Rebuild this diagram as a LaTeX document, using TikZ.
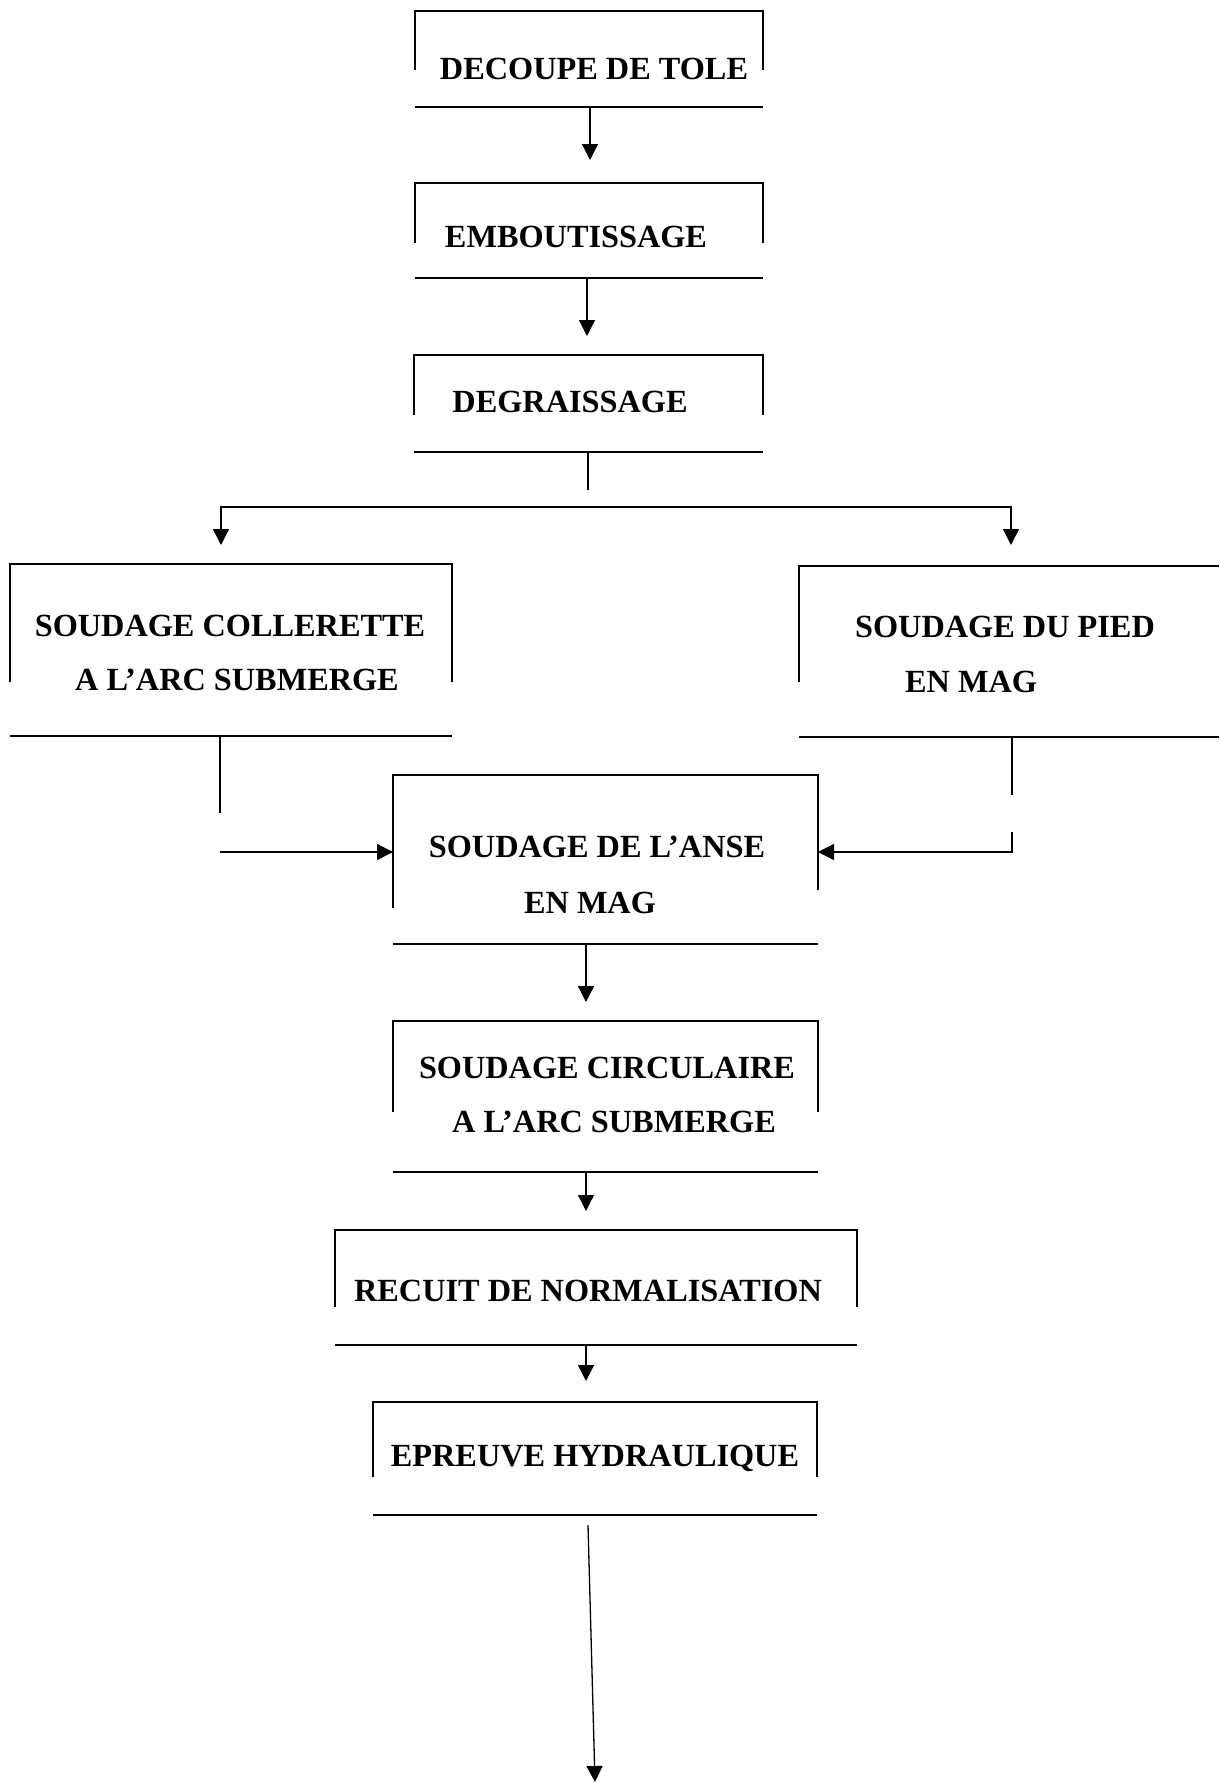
\documentclass[tikz,border=0pt]{standalone}
\usepackage{fontspec}
\setmainfont{Liberation Serif}
\usetikzlibrary{arrows.meta}
\newcommand\mkbox[5]{\node[boxn,minimum width={(#4-#2)*1pt},minimum height={(#5-#3)*1pt}] (#1) at ({(#2+#4)/2},{(#3+#5)/2}) {};}
\newcommand\drawopen[3]{%
  \draw[boxline] (#1.north west) ++(0,#2) -- (#1.north west) -- (#1.north east) -- ++(0,#3);
  \draw[boxline] (#1.south west) -- (#1.south east);}
\begin{document}
\begin{tikzpicture}[x=1pt,y=-1pt,
  boxn/.style={rectangle,draw=none,inner sep=0pt,outer sep=0pt},
  boxline/.style={line width=1.7pt},
  conn/.style={line width=1.3pt},
  arr/.style={conn,-{Triangle[width=16pt,length=16pt]}},
  lbl/.style={anchor=base,inner sep=0pt,font=\fontsize{32.3}{36}\selectfont\bfseries}]
\useasboundingbox (0,0) rectangle (1219,1782);
\fill[white] (0,0) rectangle (1219,1782);

% boxes (left, top, right, bottom)
\mkbox{b1}{415}{11}{763}{107}
\mkbox{b2}{415}{183}{763}{278}
\mkbox{b3}{414}{355}{763}{452}
\mkbox{b4}{10}{564}{452}{736}
\mkbox{b5}{799}{566}{1219}{737}
\mkbox{b6}{393}{775}{818}{944}
\mkbox{b7}{393}{1021}{818}{1172}
\mkbox{b8}{335}{1230}{857}{1345}
\mkbox{b9}{373}{1402}{817}{1515}

\drawopen{b1}{59}{59}
\drawopen{b2}{60}{60}
\drawopen{b3}{60}{60}
\drawopen{b4}{118}{118}
\drawopen{b5}{116}{0}
\drawopen{b6}{133}{115}
\drawopen{b7}{91}{91}
\drawopen{b8}{77}{77}
\drawopen{b9}{75}{75}

% labels
\node[lbl] (t1) at (594,80) {DECOUPE DE TOLE};
\node[lbl] (t2) at (576,247) {EMBOUTISSAGE};
\node[lbl] (t3) at (570,412) {DEGRAISSAGE};
\node[lbl] (t4a) at (230,636) {SOUDAGE COLLERETTE};
\node[lbl] (t4b) at (237,690) {A L’ARC SUBMERGE};
\node[lbl] (t5a) at (1005,637) {SOUDAGE DU PIED};
\node[lbl] (t5b) at (971,692) {EN MAG};
\node[lbl] (t6a) at (597,857) {SOUDAGE DE L’ANSE};
\node[lbl] (t6b) at (590,913) {EN MAG};
\node[lbl] (t7a) at (607,1078) {SOUDAGE CIRCULAIRE};
\node[lbl] (t7b) at (614,1132) {A L’ARC SUBMERGE};
\node[lbl] (t8) at (588,1301) {RECUIT DE NORMALISATION};
\node[lbl] (t9) at (595,1466) {EPREUVE HYDRAULIQUE};

% helper coordinates
\coordinate (ax) at (590,0);
\coordinate (ay) at (587,0);
\coordinate (e1) at (590,160);
\coordinate (e2) at (587,336);
\coordinate (s3) at (588,490);
\coordinate (split) at (588,507);
\coordinate (jL) at (221,545);
\coordinate (jR) at (1011,545);
\coordinate (l1) at (220,813);
\coordinate (l2) at (220,852);
\coordinate (r1) at (1012,795);
\coordinate (r2) at (1012,832);
\coordinate (r3) at (1012,852);
\coordinate (e6) at (586,1002);
\coordinate (e7) at (586,1211);
\coordinate (e8) at (586,1381);
\coordinate (f0) at (588,1525);
\coordinate (fend) at (595,1782);

% connectors
\draw[arr] (b1.south -| ax) -- (e1);
\draw[arr] (b2.south -| ay) -- (e2);
\draw[conn] (b3.south -| s3) -- (s3);
\draw[arr] (split) -| (jL);
\draw[arr] (split) -| (jR);
\draw[conn] (b4.south -| l1) -- (l1);
\draw[arr] (l2) -- (l2 -| b6.west);
\draw[conn] (b5.south -| r1) -- (r1);
\draw[arr] (r2) |- (r3 -| b6.east);
\draw[arr] (b6.south -| e6) -- (e6);
\draw[arr] (b7.south -| e7) -- (e7);
\draw[arr] (b8.south -| e8) -- (e8);
\draw[arr] (f0) -- (fend);
\end{tikzpicture}
\end{document}
